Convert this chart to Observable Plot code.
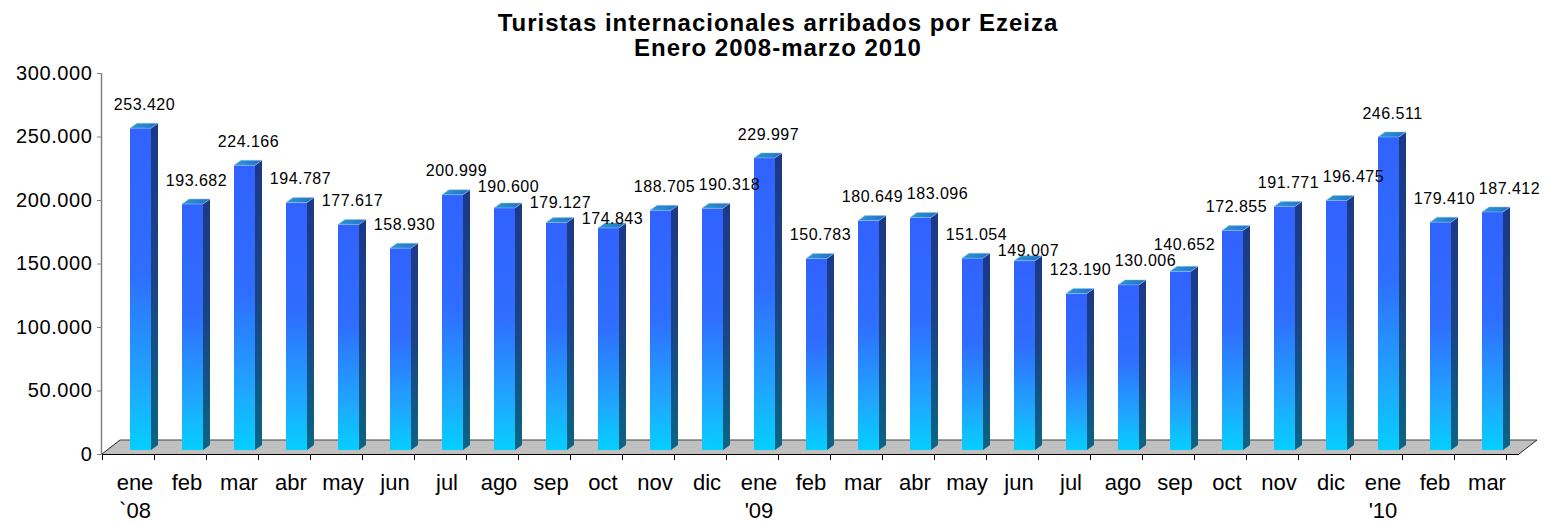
<!DOCTYPE html>
<html><head><meta charset="utf-8">
<script src="https://cdn.jsdelivr.net/npm/d3@7"></script>
<script src="https://cdn.jsdelivr.net/npm/@observablehq/plot@0.6"></script>
<style>
body{margin:0;background:#fff;}
#title{width:1556px;height:60px;box-sizing:border-box;padding-top:10px;text-align:center;font:bold 24px/25px "Liberation Sans",Arial,sans-serif;color:#000;letter-spacing:1px;}
g[aria-label="vals"] text{letter-spacing:0.5px;}
g[aria-label="meses"] text, g[aria-label="anios"] text{letter-spacing:1px;}
g[aria-label="y-axis tick"]{stroke:#808080;}
g[aria-label="y-axis"] line{stroke:#808080;}
g[aria-label="y-axis tick label"] text, g[aria-label="y-axis"] text{letter-spacing:0.6px;}
</style></head>
<body>
<svg width="0" height="0" style="position:absolute">
  <defs>
    <linearGradient id="gFront" x1="0" y1="0" x2="0" y2="1">
      <stop offset="0" stop-color="#3162fe"/>
      <stop offset="0.45" stop-color="#2f6efe"/>
      <stop offset="0.8" stop-color="#1ea8ff"/>
      <stop offset="1" stop-color="#05cfff"/>
    </linearGradient>
    <linearGradient id="gSide" x1="0" y1="0" x2="0" y2="1">
      <stop offset="0" stop-color="#1c3888"/>
      <stop offset="0.5" stop-color="#1a4584"/>
      <stop offset="1" stop-color="#0a6585"/>
    </linearGradient>
    <linearGradient id="gTop" x1="0" y1="0" x2="1" y2="0">
      <stop offset="0" stop-color="#2a9ad0"/>
      <stop offset="1" stop-color="#2470c8"/>
    </linearGradient>
  </defs>
</svg>
<div id="title">Turistas internacionales arribados por Ezeiza<br>Enero 2008-marzo 2010</div>
<div id="chart"></div>
<script>
const meses = ["ene","feb","mar","abr","may","jun","jul","ago","sep","oct","nov","dic",
               "ene","feb","mar","abr","may","jun","jul","ago","sep","oct","nov","dic",
               "ene","feb","mar"];
const anios = ["`08","","","","","","","","","","","",
               "'09","","","","","","","","","","","",
               "'10","",""];
const turistas = [253420,193682,224166,194787,177617,158930,200999,190600,179127,174843,188705,190318,
                  229997,150783,180649,183096,151054,149007,123190,130006,140652,172855,191771,196475,
                  246511,179410,187412];
const yTicks = [0,50000,100000,150000,200000,250000,300000];

const fmt = d => d3.format(",")(d).replace(/,/g, ".");
const data = meses.map((m, i) => ({i, mes: m, anio: anios[i], v: turistas[i]}));

const DX = 7, DY = -5;      // depth of bar side/top faces
const FX = 18, FY = -14;    // depth of floor
const BAR_DX = 6, BAR_DY = -4;

function bandInfo(sx, dims) {
  const r = typeof sx.range === "function" ? sx.range() : [dims.marginLeft, dims.width - dims.marginRight];
  const step = typeof sx.step === "function" ? sx.step() : (r[1] - r[0]) / meses.length;
  const bw = typeof sx.bandwidth === "function" ? sx.bandwidth() : step * 0.4;
  return {r, step, bw};
}

function floorMark(index, scales, values, dims) {
  const sx = scales.x, sy = scales.y;
  const {r, step} = bandInfo(sx, dims);
  const x0 = r[0], x1 = r[1];
  const y0 = sy(0), yTop = sy(300000);
  const g = d3.create("svg:g");
  g.append("polygon")
    .attr("points", [[x0, y0], [x1, y0], [x1 + FX, y0 + FY], [x0 + FX, y0 + FY]].map(p => p.join(",")).join(" "))
    .attr("fill", "#c0c0c0");
  g.append("line").attr("x1", x0 + FX).attr("x2", x1 + FX).attr("y1", y0 + FY).attr("y2", y0 + FY)
    .attr("stroke", "#444").attr("stroke-width", 1);
  g.append("line").attr("x1", x0).attr("x2", x0 + FX).attr("y1", y0).attr("y2", y0 + FY)
    .attr("stroke", "#222").attr("stroke-width", 1);
  g.append("line").attr("x1", x1).attr("x2", x1 + FX).attr("y1", y0).attr("y2", y0 + FY)
    .attr("stroke", "#222").attr("stroke-width", 1);
  g.append("line").attr("x1", x0).attr("x2", x1).attr("y1", y0 + 0.5).attr("y2", y0 + 0.5)
    .attr("stroke", "#000").attr("stroke-width", 1.2);
  for (let k = 0; k <= meses.length; k++) {
    const xx = Math.round(x0 + k * step) + 0.5;
    g.append("line").attr("x1", xx).attr("x2", xx).attr("y1", y0).attr("y2", y0 + 6)
      .attr("stroke", "#000").attr("stroke-width", 1);
  }
  g.append("line").attr("x1", x0 - 0.5).attr("x2", x0 - 0.5).attr("y1", yTop).attr("y2", y0 + 1)
    .attr("stroke", "#808080").attr("stroke-width", 1.5);
  return g.node();
}

function facesMark(index, scales, values, dims) {
  const sx = scales.x, sy = scales.y;
  const {bw} = bandInfo(sx, dims);
  const g = d3.create("svg:g");
  data.forEach(d => {
    const xl = sx(d.i) + BAR_DX, xr = xl + bw;
    const yt = sy(d.v) + BAR_DY, yb = sy(0) + BAR_DY;
    g.append("polygon")
      .attr("points", [[xr, yb], [xr + DX, yb + DY], [xr + DX, yt + DY], [xr, yt]].map(p => p.join(",")).join(" "))
      .attr("fill", "url(#gSide)");
    g.append("polygon")
      .attr("points", [[xl, yt], [xr, yt], [xr + DX, yt + DY], [xl + DX, yt + DY]].map(p => p.join(",")).join(" "))
      .attr("fill", "url(#gTop)").attr("stroke", "#9cc4f0").attr("stroke-width", 0.5);
  });
  return g.node();
}

// value labels above each bar; when one would collide with the previous label it is
// nudged slightly down/up if that suffices, otherwise pushed to the right
function labelsMark(index, scales, values, dims) {
  const sx = scales.x, sy = scales.y;
  const {bw} = bandInfo(sx, dims);
  const SEP = 16, MAXDOWN = 15, MAXUP = 5, GAP = 65;
  const g = d3.create("svg:g").attr("aria-label", "vals")
    .attr("font-size", 16).attr("text-anchor", "middle").attr("fill", "#000");
  let prev = null;
  data.forEach(d => {
    let cx = sx(d.i) + BAR_DX + bw / 2 + 4;
    let cy = sy(d.v) + BAR_DY - 24;
    if (prev && Math.abs(cy - prev.cy) < SEP && cx - prev.cx < GAP) {
      const diff = cy - prev.cy;
      if (diff >= 0 && SEP - diff <= MAXDOWN) cy = prev.cy + SEP;
      else if (diff < 0 && SEP + diff <= MAXUP) cy = prev.cy - SEP;
      else cx = Math.max(cx, prev.cx + GAP);
    }
    g.append("text").attr("x", cx).attr("y", cy).attr("dy", "0.35em").text(fmt(d.v));
    prev = {cx, cy};
  });
  return g.node();
}

const chart = Plot.plot({
  width: 1556,
  height: 462,
  marginLeft: 102,
  marginRight: 37,
  marginTop: 13,
  marginBottom: 68,
  style: {fontFamily: "'Liberation Sans', Arial, sans-serif", fontSize: "20px", color: "#000", background: "#fff", overflow: "visible"},
  x: {type: "band", domain: d3.range(meses.length), paddingInner: 0.6, paddingOuter: 0.3, axis: null},
  y: {domain: [0, 300000], ticks: yTicks, tickFormat: fmt, tickSize: 5, tickPadding: 5, label: null},
  marks: [
    floorMark,
    Plot.barY(data, {x: "i", y: "v", dx: BAR_DX, dy: BAR_DY, fill: "url(#gFront)"}),
    facesMark,
    labelsMark,
    Plot.text(data, {x: "i", y: 0, text: "mes", dy: 28, fontSize: 22, fill: "#000", ariaLabel: "meses"}),
    Plot.text(data, {x: "i", y: 0, text: "anio", dy: 56, fontSize: 22, fill: "#000", ariaLabel: "anios"})
  ]
});
document.getElementById("chart").appendChild(chart);
</script>
</body></html>
